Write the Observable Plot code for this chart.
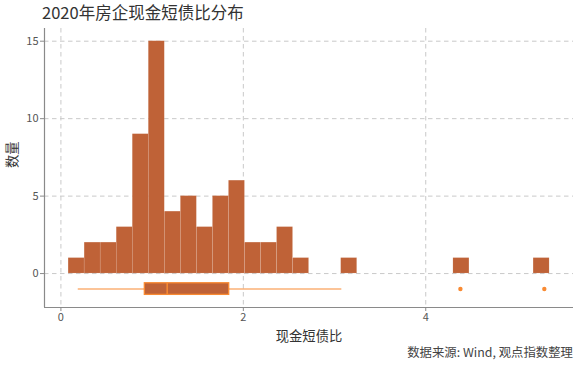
<!DOCTYPE html>
<html>
<head>
<meta charset="utf-8">
<script src="https://cdn.jsdelivr.net/npm/d3@7"></script>
<script src="https://cdn.jsdelivr.net/npm/@observablehq/plot@0.6"></script>
<style>
  body { margin: 0; background: #fff; font-family: "Noto Sans CJK SC", "Noto Sans", sans-serif; }
  #wrap { width: 580px; height: 367px; position: relative; }
  #title { height: 22px; line-height: 25px; font-size: 16.5px; color: #333; padding-left: 42px; white-space: nowrap; }
  #caption { height: 22px; line-height: 15px; font-size: 12.4px; color: #444; text-align: right; padding-right: 7px; white-space: nowrap; }
  svg { display: block; }
</style>
</head>
<body>
<div id="wrap">
  <div id="title">2020年房企现金短债比分布</div>
  <div id="chart"></div>
  <div id="caption">数据来源: Wind, 观点指数整理</div>
</div>
<script>
// Histogram: 30 bins between histMin and histMax
const histMin = 0.084;
const histMax = 5.358;
const counts = [1, 2, 2, 3, 9, 15, 4, 5, 3, 5, 6, 2, 2, 3, 1, 0, 0, 1, 0, 0, 0, 0, 0, 0, 1, 0, 0, 0, 0, 1];

// Boxplot summary
const boxStats = [{lo: 0.19, q1: 0.92, median: 1.165, q3: 1.845, hi: 3.08}];
const outliers = [4.38, 5.30];
const boxCenter = -1;
const boxHalf = 0.375;

// Axes
const xTicks = [0, 2, 4];
const yTicks = [0, 5, 10, 15];
const xDomain = [-0.18, 5.62];
const yDomain = [-2.19, 15.82];

const binW = (histMax - histMin) / counts.length;
const bins = counts.map((c, i) => ({x1: histMin + i * binW, x2: histMin + (i + 1) * binW, count: c})).filter(d => d.count > 0);

const barColor = "#BF6237";
const orange = "#F98A32";
const gridColor = "#c9c9c9";
const axisColor = "#8a8a8a";
const font = "'Noto Sans CJK SC', 'Noto Sans', sans-serif";

const chart = Plot.plot({
  width: 580,
  height: 323,
  marginLeft: 44,
  marginRight: 7,
  marginTop: 6,
  marginBottom: 38,
  style: {fontFamily: font, fontSize: "11px", color: "#555", background: "white"},
  x: {domain: xDomain},
  y: {domain: yDomain},
  marks: [
    Plot.gridX(xTicks, {stroke: gridColor, strokeOpacity: 1, strokeDasharray: "4.5,3.5", strokeWidth: 1}),
    Plot.gridY(yTicks, {stroke: gridColor, strokeOpacity: 1, strokeDasharray: "4.5,3.5", strokeWidth: 1}),
    Plot.rect(bins, {x1: "x1", x2: "x2", y1: 0, y2: "count", fill: barColor, stroke: "#fff", strokeWidth: 0.4, strokeOpacity: 0.3}),
    Plot.ruleY(boxStats, {y: boxCenter, x1: "lo", x2: "hi", stroke: orange, strokeWidth: 1.1}),
    Plot.rect(boxStats, {x1: "q1", x2: "q3", y1: boxCenter - boxHalf, y2: boxCenter + boxHalf, fill: barColor, stroke: orange, strokeWidth: 1.3}),
    Plot.ruleX(boxStats, {x: "median", y1: boxCenter - boxHalf, y2: boxCenter + boxHalf, stroke: orange, strokeWidth: 1.5}),
    Plot.dot(outliers, {x: d => d, y: boxCenter, r: 2.2, fill: orange, stroke: null}),
    Plot.ruleX([xDomain[0]], {stroke: axisColor, strokeWidth: 1.2}),
    Plot.ruleY([yDomain[0]], {stroke: axisColor, strokeWidth: 1.2}),
    Plot.axisX(xTicks, {tickSize: 4, tickPadding: 2, stroke: axisColor, fill: "#555", fontSize: 11, label: null}),
    Plot.axisY(yTicks, {tickSize: 4, tickPadding: 2, stroke: axisColor, fill: "#555", fontSize: 11, label: null}),
    Plot.text(["现金短债比"], {frameAnchor: "bottom", dy: 29, fontSize: 13.3, fill: "#333", lineAnchor: "middle"}),
    Plot.text(["数量"], {frameAnchor: "left", dx: -32, rotate: -90, fontSize: 13.3, fill: "#333", lineAnchor: "middle"})
  ]
});
document.getElementById("chart").appendChild(chart);
</script>
</body>
</html>
